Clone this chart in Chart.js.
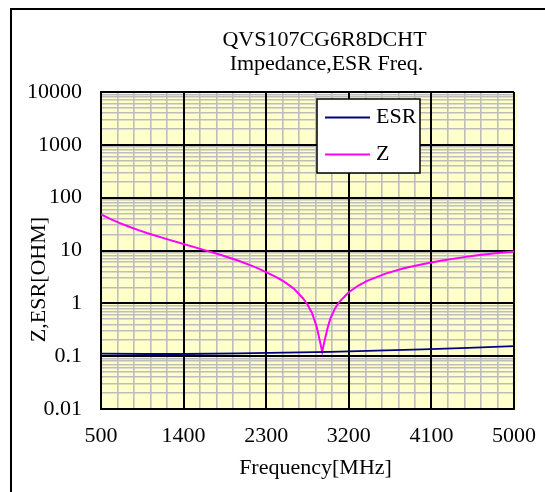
<!DOCTYPE html>
<html><head><meta charset="utf-8">
<script src="https://cdn.jsdelivr.net/npm/chart.js@4.4.0/dist/chart.umd.min.js"></script>
<style>html,body{margin:0;padding:0;background:#fff;} canvas{display:block;}</style>
</head><body>
<canvas id="c" width="545" height="492"></canvas>
<script>
const titleLines = ['QVS107CG6R8DCHT', 'Impedance,ESR Freq.'];
const xTitle = 'Frequency[MHz]';
const yTitle = 'Z,ESR[OHM]';
const xTickLabels = [500, 1400, 2300, 3200, 4100, 5000];
const yDecades = [0.01, 0.1, 1, 10, 100, 1000, 10000];
const seriesNames = ['ESR', 'Z'];

const zFreq = [500, 600, 700, 800, 900, 1000, 1200, 1400, 1600, 1800, 2000, 2200, 2400, 2500, 2600, 2700, 2750, 2800, 2850, 2880, 2910, 2940, 2970, 3000, 3050, 3100, 3200, 3300, 3400, 3600, 3800, 4000, 4200, 4400, 4600, 4800, 5000];
const zVals  = [48.0, 39.6, 33.3, 28.5, 24.6, 21.5, 16.8, 13.3, 10.5, 8.3, 6.4, 4.7, 3.2, 2.55, 1.9, 1.25, 0.95, 0.65, 0.36, 0.21, 0.121, 0.21, 0.35, 0.52, 0.80, 1.08, 1.62, 2.15, 2.66, 3.65, 4.6, 5.5, 6.4, 7.25, 8.1, 8.85, 9.6];

const esrFreq = [500, 1000, 1400, 2000, 2500, 3000, 3500, 4000, 4500, 5000];
const esrVals = [0.112, 0.110, 0.110, 0.113, 0.117, 0.121, 0.127, 0.135, 0.144, 0.155];

const FONT = "'Liberation Serif', 'Times New Roman', serif";
const FS = 22;

const xMin = xTickLabels[0], xMax = xTickLabels[xTickLabels.length - 1];
const xMinorStep = (xTickLabels[1] - xTickLabels[0]) / 5;

const yTickValues = [];
yDecades.forEach((d, i) => {
  if (i === yDecades.length - 1) { yTickValues.push(d); return; }
  for (let k = 1; k <= 9; k++) yTickValues.push(+(d * k).toPrecision(6));
});

const GRID_GRAY = '#bdbdbd';
const GRID_BLACK = '#000000';

const decor = {
  id: 'decor',
  beforeDraw(chart) {
    const { ctx, chartArea: a } = chart;
    ctx.save();
    ctx.fillStyle = '#ffffff';
    ctx.fillRect(0, 0, chart.width, chart.height);
    ctx.fillStyle = '#ffffcc';
    ctx.fillRect(a.left, a.top, a.right - a.left + 3, a.bottom - a.top);
    ctx.restore();
  },
  beforeDatasetsDraw(chart) {
    const { ctx, chartArea: a, scales } = chart;
    ctx.save();
    ctx.strokeStyle = GRID_BLACK;
    ctx.lineWidth = 2;
    xTickLabels.forEach(v => {
      const px = Math.round(scales.x.getPixelForValue(v));
      ctx.beginPath(); ctx.moveTo(px, a.top); ctx.lineTo(px, a.bottom); ctx.stroke();
    });
    yDecades.forEach(v => {
      const py = Math.round(scales.y.getPixelForValue(v));
      ctx.beginPath(); ctx.moveTo(a.left, py); ctx.lineTo(a.right, py); ctx.stroke();
    });
    ctx.restore();
  },
  afterDraw(chart) {
    const { ctx, chartArea: a } = chart;
    ctx.save();
    ctx.strokeStyle = '#000';
    ctx.lineWidth = 2;
    ctx.beginPath();
    ctx.moveTo(11, chart.height + 5); ctx.lineTo(11, 9); ctx.lineTo(chart.width + 5, 9);
    ctx.stroke();

    ctx.fillStyle = '#000';
    ctx.font = FS + 'px ' + FONT;
    ctx.textAlign = 'center';
    ctx.textBaseline = 'middle';
    const cx = (a.left + a.right) / 2;
    ctx.fillText(titleLines[0], cx + 17, 40);
    ctx.fillText(titleLines[1], cx + 19, 64);
    ctx.fillText(xTitle, cx + 8, 468);

    ctx.save();
    ctx.translate(39, (a.top + a.bottom) / 2 + 29);
    ctx.rotate(-Math.PI / 2);
    ctx.fillText(yTitle, 0, 0);
    ctx.restore();

    const lx = a.left + 216, ly = a.top + 7, lw = 103, lh = 74;
    ctx.fillStyle = '#fff';
    ctx.fillRect(lx, ly, lw, lh);
    ctx.strokeStyle = '#000';
    ctx.lineWidth = 1.5;
    ctx.strokeRect(lx, ly, lw, lh);
    chart.data.datasets.forEach((ds, i) => {
      const yy = ly + 18.5 + i * 37;
      ctx.strokeStyle = ds.borderColor;
      ctx.lineWidth = 1.8;
      ctx.beginPath(); ctx.moveTo(lx + 8, yy); ctx.lineTo(lx + 53, yy); ctx.stroke();
      ctx.fillStyle = '#000';
      ctx.textAlign = 'left';
      ctx.fillText(ds.label, lx + 59, yy);
    });
    ctx.restore();
  }
};

new Chart(document.getElementById('c'), {
  type: 'line',
  data: {
    datasets: [
      { label: seriesNames[0], data: esrFreq.map((f, i) => ({ x: f, y: esrVals[i] })), borderColor: '#000080', borderWidth: 1.8, pointRadius: 0, tension: 0 },
      { label: seriesNames[1], data: zFreq.map((f, i) => ({ x: f, y: zVals[i] })), borderColor: '#ff00ff', borderWidth: 2, pointRadius: 0, tension: 0 }
    ]
  },
  options: {
    responsive: false,
    animation: false,
    devicePixelRatio: 1,
    layout: { padding: { left: 0, right: 31, top: 92, bottom: 0 } },
    plugins: { legend: { display: false }, tooltip: { enabled: false }, title: { display: false } },
    scales: {
      x: {
        type: 'linear', min: xMin, max: xMax,
        afterBuildTicks: s => {
          const t = [];
          for (let v = xMin; v <= xMax + 0.001; v += xMinorStep) t.push({ value: Math.round(v) });
          s.ticks = t;
        },
        afterFit: s => { s.height = 83; s.paddingRight = 0; s.paddingLeft = 0; },
        ticks: {
          autoSkip: false, maxRotation: 0, padding: 14, color: '#000',
          font: { family: FONT, size: FS },
          callback: v => xTickLabels.includes(v) ? String(v) : ''
        },
        grid: {
          drawTicks: false,
          color: c => (c.tick && xTickLabels.includes(c.tick.value)) ? GRID_BLACK : GRID_GRAY,
          lineWidth: c => (c.tick && xTickLabels.includes(c.tick.value)) ? 2 : 1.6
        },
        border: { display: true, color: '#000', width: 2 }
      },
      y: {
        type: 'logarithmic', min: yDecades[0], max: yDecades[yDecades.length - 1],
        afterBuildTicks: s => { s.ticks = yTickValues.map(v => ({ value: v })); },
        afterFit: s => { s.width = 101; s.paddingTop = 0; s.paddingBottom = 0; },
        ticks: {
          autoSkip: false, padding: 19, color: '#000',
          font: { family: FONT, size: FS },
          callback: v => yDecades.includes(v) ? String(v) : ''
        },
        grid: {
          drawTicks: false,
          color: c => (c.tick && yDecades.includes(c.tick.value)) ? GRID_BLACK : GRID_GRAY,
          lineWidth: c => (c.tick && yDecades.includes(c.tick.value)) ? 2 : 1.6
        },
        border: { display: true, color: '#000', width: 2 }
      }
    }
  },
  plugins: [decor]
});
</script>
</body></html>
